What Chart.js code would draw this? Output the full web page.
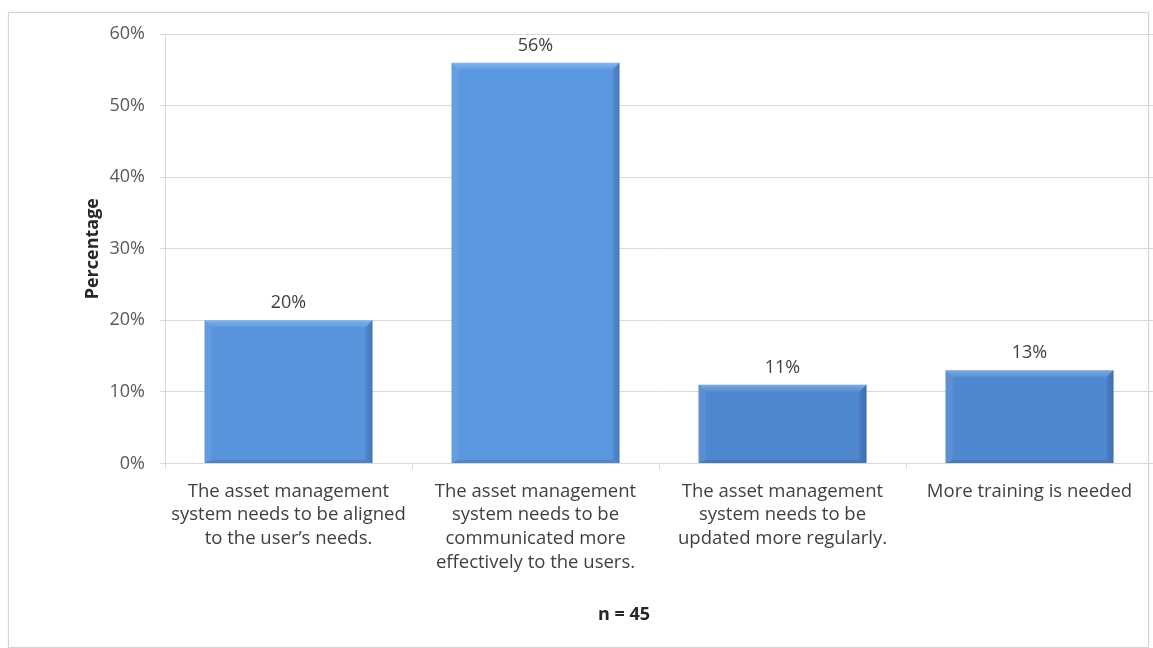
<!DOCTYPE html>
<html>
<head>
<meta charset="utf-8">
<script src="https://cdn.jsdelivr.net/npm/chart.js@4"></script>
<style>
  html, body { margin: 0; padding: 0; background: #ffffff; }
  #frame {
    position: absolute; left: 8px; top: 12px; width: 1139px; height: 634px;
    border: 1px solid #d4d4d4; box-shadow: 0 0 2px rgba(0,0,0,0.08);
  }
  #wrap { position: absolute; left: 0; top: 0; width: 1153px; height: 648px; }
</style>
</head>
<body>
<div id="frame"></div>
<div id="wrap"><canvas id="surveyChart"></canvas></div>
<script>
const categories = [
  ['The asset management', 'system needs to be aligned', 'to the user\u2019s needs.'],
  ['The asset management', 'system needs to be', 'communicated more', 'effectively to the users.'],
  ['The asset management', 'system needs to be', 'updated more regularly.'],
  ['More training is needed']
];
const percentages = [20, 56, 11, 13];
const barColors = ['#5794dc', '#5998e0', '#4f87cf', '#5088cf'];
const yTicks = [0, 10, 20, 30, 40, 50, 60];

const FONT = "'Open Sans'";

// bevelled look + value labels on top of each bar
const barDecor = {
  id: 'barDecor',
  afterDatasetsDraw(chart) {
    const ctx = chart.ctx;
    const meta = chart.getDatasetMeta(0);
    meta.data.forEach((bar, i) => {
      const { x, y, base, width } = bar.getProps(['x', 'y', 'base', 'width'], true);
      const l = x - width / 2, r = x + width / 2;
      const b = 7;
      ctx.save();
      // top highlight, fading downwards
      const g = ctx.createLinearGradient(0, y, 0, y + b);
      g.addColorStop(0, 'rgba(255,255,255,0.28)');
      g.addColorStop(1, 'rgba(255,255,255,0.05)');
      ctx.fillStyle = g;
      ctx.beginPath();
      ctx.moveTo(l, y); ctx.lineTo(r, y); ctx.lineTo(r - b, y + b); ctx.lineTo(l + b, y + b);
      ctx.closePath(); ctx.fill();
      // left soft light
      ctx.fillStyle = 'rgba(255,255,255,0.07)';
      ctx.beginPath();
      ctx.moveTo(l, y); ctx.lineTo(l + b, y + b); ctx.lineTo(l + b, base - 3); ctx.lineTo(l, base);
      ctx.closePath(); ctx.fill();
      // right shade
      const gr = ctx.createLinearGradient(r - b, 0, r, 0);
      gr.addColorStop(0, 'rgba(20,40,90,0.10)');
      gr.addColorStop(1, 'rgba(20,40,90,0.28)');
      ctx.fillStyle = gr;
      ctx.beginPath();
      ctx.moveTo(r, y); ctx.lineTo(r, base); ctx.lineTo(r - b, base - 3); ctx.lineTo(r - b, y + b);
      ctx.closePath(); ctx.fill();
      // bottom shade
      ctx.fillStyle = 'rgba(20,40,90,0.15)';
      ctx.beginPath();
      ctx.moveTo(l, base); ctx.lineTo(r, base); ctx.lineTo(r - b, base - 3); ctx.lineTo(l + b, base - 3);
      ctx.closePath(); ctx.fill();
      // value label
      ctx.fillStyle = '#404040';
      ctx.font = '18px ' + FONT;
      ctx.textAlign = 'center';
      ctx.textBaseline = 'middle';
      ctx.fillText(percentages[i] + '%', x, y - 17);
      ctx.restore();
    });
  }
};

new Chart(document.getElementById('surveyChart'), {
  type: 'bar',
  data: {
    labels: categories,
    datasets: [{
      data: percentages,
      backgroundColor: barColors,
      borderWidth: 0,
      categoryPercentage: 1,
      barPercentage: 0.68
    }]
  },
  options: {
    responsive: true,
    maintainAspectRatio: false,
    animation: false,
    layout: { padding: { left: 95, right: 0, top: 34, bottom: 20 } },
    plugins: {
      legend: { display: false },
      tooltip: { enabled: false },
      title: {
        display: true,
        position: 'bottom',
        text: 'n = 45',
        color: '#262626',
        font: { family: FONT, size: 18, weight: 'bold' },
        padding: { top: 10, bottom: 2 }
      }
    },
    scales: {
      x: {
        grid: { display: true, offset: true, drawOnChartArea: false, color: '#d9d9d9', tickLength: 6 },
        border: { color: '#d9d9d9' },
        ticks: {
          color: '#404040',
          padding: 10,
          maxRotation: 0,
          autoSkip: false,
          font: { family: FONT, size: 18.5, lineHeight: 1.28 }
        },
        afterFit(scale) { scale.height = 131; }
      },
      y: {
        min: 0,
        max: 60,
        afterBuildTicks(scale) { scale.ticks = yTicks.map(v => ({ value: v })); },
        grid: { color: '#d9d9d9', tickLength: 5 },
        border: { color: '#d9d9d9' },
        ticks: {
          color: '#595959',
          padding: 15,
          font: { family: FONT, size: 18 },
          callback: v => v + '%'
        },
        title: {
          display: true,
          text: 'Percentage',
          color: '#262626',
          font: { family: FONT, size: 18, weight: 'bold' },
          padding: { top: -13, bottom: 0 }
        },
        afterFit(scale) { scale.width = 70; }
      }
    }
  },
  plugins: [barDecor]
});
</script>
</body>
</html>
